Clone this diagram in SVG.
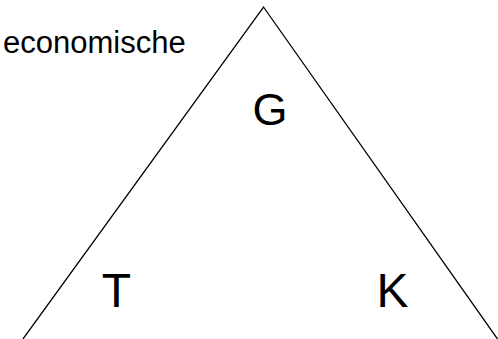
<svg xmlns="http://www.w3.org/2000/svg" width="498" height="339" viewBox="0 0 498 339">
<style>
.t{font-family:"Liberation Sans",Arial,sans-serif;fill:#000}
.e{stroke:#000;stroke-width:1.3;fill:none}
</style>
<rect width="498" height="339" fill="#fff"/>
<g id="connectors">
<polyline class="e" points="23,339 263.5,7 497.5,339"/>
</g>
<g id="label-economische"><text class="t" x="3" y="53" font-size="31">economische</text></g>
<g id="node-G"><text class="t" x="270" y="125" font-size="45" text-anchor="middle">G</text></g>
<g id="node-T"><text class="t" x="116.5" y="307" font-size="48" text-anchor="middle">T</text></g>
<g id="node-K"><text class="t" x="392.5" y="307" font-size="48" text-anchor="middle">K</text></g>
</svg>
